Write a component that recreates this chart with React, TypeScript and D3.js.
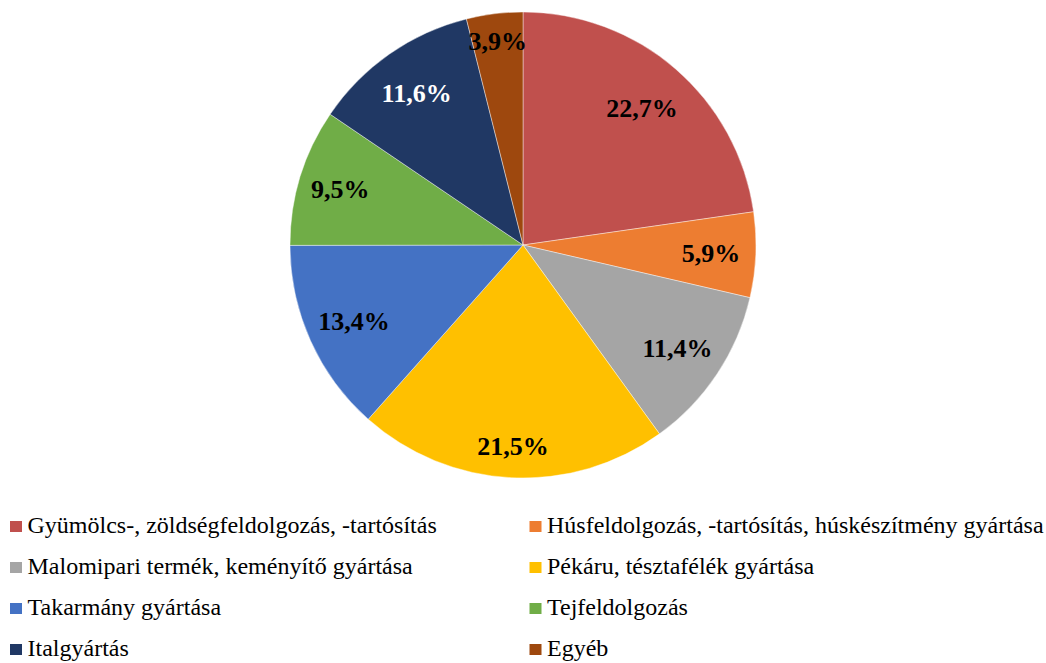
import React from "react";
import * as d3 from "d3";

const categories = [
  "Gyümölcs-, zöldségfeldolgozás, -tartósítás",
  "Húsfeldolgozás, -tartósítás, húskészítmény gyártása",
  "Malomipari termék, keményítő gyártása",
  "Pékáru, tésztafélék gyártása",
  "Takarmány gyártása",
  "Tejfeldolgozás",
  "Italgyártás",
  "Egyéb",
];
const values = [22.7, 5.9, 11.4, 21.5, 13.4, 9.5, 11.6, 3.9];
const colors = ["#C0504D", "#ED7D31", "#A5A5A5", "#FFC000", "#4472C4", "#70AD47", "#203864", "#9E480E"];
const labelColors = ["#000", "#000", "#000", "#000", "#000", "#000", "#fff", "#000"];

const W = 1046;
const H = 663;
const cx = 523;
const cy = 245;
const R = 233;
// label distance from centre, as share of the radius (layout tuning)
const labelRatio = [0.78, 0.808, 0.796, 0.864, 0.796, 0.82, 0.797, 0.884];
const FONT = "'Liberation Serif', 'Times New Roman', Times, serif";

export default function App() {
  const pie = d3.pie<number>().sort(null).value((d) => d);
  const arcs = pie(values);
  const arc = d3.arc<d3.PieArcDatum<number>>().innerRadius(0).outerRadius(R);
  const fmt = (v: number) => v.toFixed(1).replace(".", ",") + "%";

  const legendRowY = d3.scaleLinear().domain([0, 3]).range([533, 656]);
  const legendColX = [27.5, 547];

  return (
    <svg width={W} height={H} style={{ position: "absolute", left: 0, top: 0 }}>
      <rect width={W} height={H} fill="#fff" />
      <g transform={`translate(${cx},${cy})`}>
        {arcs.map((a, i) => (
          <path key={i} d={arc(a) || ""} fill={colors[i]} stroke="#ffffff" strokeOpacity={0.7} strokeWidth={0.6} />
        ))}
        {arcs.map((a, i) => {
          const r = R * labelRatio[i];
          const la = d3.arc<d3.PieArcDatum<number>>().innerRadius(r).outerRadius(r);
          const [x, y] = la.centroid(a);
          return (
            <text
              key={i}
              x={x}
              y={y + 9}
              textAnchor="middle"
              fontFamily={FONT}
              fontWeight="bold"
              fontSize={26}
              fill={labelColors[i]}
            >
              {fmt(values[i])}
            </text>
          );
        })}
      </g>
      {categories.map((c, i) => {
        const row = Math.floor(i / 2);
        const col = i % 2;
        const y = legendRowY(row);
        const x = legendColX[col];
        return (
          <g key={c}>
            <rect x={x - 17.5} y={y - 12} width={12} height={11} fill={colors[i]} />
            <text x={x} y={y} fontFamily={FONT} fontSize={24} fill="#000">
              {c}
            </text>
          </g>
        );
      })}
    </svg>
  );
}
